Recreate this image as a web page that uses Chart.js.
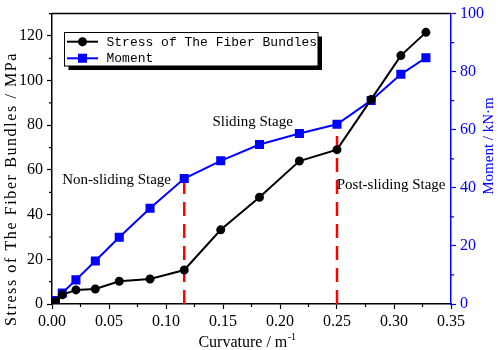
<!DOCTYPE html>
<html>
  <head>
    <title>Stress and Moment vs Curvature</title>
    <style>
      body { margin: 0; background: #fff; }
      #myChart { display: block; }
    </style>
    <script src="https://cdn.jsdelivr.net/npm/chart.js"></script>
  </head>
  <body>
    <canvas id="myChart" width="498" height="350"></canvas>
    <script>
      // data
      const curvature = [0.003, 0.009, 0.021, 0.038, 0.059, 0.086, 0.116, 0.148, 0.182, 0.217, 0.250, 0.280, 0.306, 0.328];
      const stress = [1.2, 4.1, 6.3, 6.7, 10.2, 11.2, 15.2, 33.2, 47.8, 64.0, 69.1, 91.6, 111.2, 121.6];
      const moment = [1.2, 3.8, 8.3, 14.8, 23.0, 33.0, 43.2, 49.3, 54.9, 58.7, 61.9, 70.1, 79.1, 84.8];
      const stageCurvature = [0.116, 0.250];
      const stageMoment = [43.2, 61.9];
      const seriesNames = ['Stress of The Fiber Bundles', 'Moment'];

      const serif = "'Liberation Serif', 'Times New Roman', serif";
      const blue = '#0000ff';

      const stressData = curvature.map((c, i) => ({ x: c, y: stress[i] }));
      const momentData = curvature.map((c, i) => ({ x: c, y: moment[i] }));

      const stageLines = stageCurvature.map((c, i) => ({
        label: 'stage' + i,
        data: [{ x: c, y: 0 }, { x: c, y: stageMoment[i] }],
        yAxisID: 'y2',
        borderColor: '#ff0000',
        borderWidth: 2.5,
        borderDash: [14, 8],
        pointRadius: 0,
        showLine: true,
        order: 3
      }));

      // minor ticks, top frame line, titles, text labels and the boxed legend
      const extras = {
        id: 'extras',
        afterDraw(chart) {
          const ctx = chart.ctx;
          const area = chart.chartArea;
          const sx = chart.scales.x, sy = chart.scales.y, sy2 = chart.scales.y2;
          ctx.save();

          ctx.lineWidth = 1.5;
          ctx.strokeStyle = '#000';
          ctx.beginPath();
          ctx.moveTo(area.left, area.top);
          ctx.lineTo(area.right, area.top);
          ctx.stroke();

          ctx.lineWidth = 1.2;
          ctx.beginPath();
          for (let v = 0.025; v < 0.35; v += 0.05) {
            const px = sx.getPixelForValue(v);
            ctx.moveTo(px, area.bottom);
            ctx.lineTo(px, area.bottom + 3);
          }
          for (let v = 10; v <= 130; v += 20) {
            const py = sy.getPixelForValue(v);
            ctx.moveTo(area.left, py);
            ctx.lineTo(area.left - 3, py);
          }
          ctx.stroke();
          ctx.strokeStyle = blue;
          ctx.beginPath();
          for (let v = 10; v < 100; v += 20) {
            const py = sy2.getPixelForValue(v);
            ctx.moveTo(area.right, py);
            ctx.lineTo(area.right + 3, py);
          }
          ctx.stroke();

          // axis titles
          ctx.fillStyle = '#000';
          ctx.textAlign = 'center';
          ctx.textBaseline = 'middle';
          ctx.font = '16px ' + serif;
          const xt = 'Curvature / m';
          const wMain = ctx.measureText(xt).width;
          ctx.font = '10px ' + serif;
          const wSup = ctx.measureText('-1').width;
          const x0 = 247 - (wMain + wSup) / 2;
          ctx.textAlign = 'left';
          ctx.font = '16px ' + serif;
          ctx.fillText(xt, x0, 343);
          ctx.font = '10px ' + serif;
          ctx.fillText('-1', x0 + wMain + 0.5, 337);

          ctx.save();
          ctx.translate(12, 189);
          ctx.rotate(-Math.PI / 2);
          ctx.textAlign = 'center';
          ctx.font = '16px ' + serif;
          ctx.letterSpacing = '1.6px';
          ctx.fillText('Stress of The Fiber Bundles / MPa', 0, 0);
          ctx.restore();

          ctx.save();
          ctx.translate(489, 146);
          ctx.rotate(-Math.PI / 2);
          ctx.textAlign = 'center';
          ctx.fillStyle = blue;
          ctx.font = '15px ' + serif;
          ctx.fillText('Moment / kN\u00b7m', 0, 0);
          ctx.restore();

          // stage labels
          ctx.font = '15px ' + serif;
          ctx.fillStyle = '#000';
          ctx.textAlign = 'left';
          ctx.fillText('Non-sliding Stage', sx.getPixelForValue(0.009), sy.getPixelForValue(55.5));
          ctx.textAlign = 'center';
          ctx.fillText('Sliding Stage', sx.getPixelForValue(0.176), sy.getPixelForValue(81.6));
          ctx.textAlign = 'left';
          ctx.fillText('Post-sliding Stage', sx.getPixelForValue(0.2498), sy.getPixelForValue(53.3));

          // legend box with shadow
          const bx = 64.5, by = 32.5, bw = 253.5, bh = 33.5;
          ctx.fillStyle = '#000';
          ctx.fillRect(bx + 4, by + 4, bw, bh);
          ctx.fillStyle = '#fff';
          ctx.fillRect(bx, by, bw, bh);
          ctx.lineWidth = 1;
          ctx.strokeStyle = '#000';
          ctx.strokeRect(bx, by, bw, bh);

          const rows = [
            { y: 41.7, color: '#000', style: 'circle', r: 3.5 },
            { y: 58.3, color: blue, style: 'rect', r: 5 }
          ];
          rows.forEach((row, i) => {
            ctx.strokeStyle = row.color;
            ctx.lineWidth = 2;
            ctx.beginPath();
            ctx.moveTo(67, row.y);
            ctx.lineTo(98, row.y);
            ctx.stroke();
            ctx.fillStyle = row.color;
            Chart.helpers.drawPoint(ctx, { pointStyle: row.style, radius: row.r, borderWidth: 1 }, 82.5, row.y);
            ctx.fillStyle = '#000';
            ctx.textAlign = 'left';
            ctx.font = "13px 'Liberation Mono', 'Courier New', monospace";
            ctx.fillText(seriesNames[i], 106.5, row.y + 0.5);
          });

          ctx.restore();
        }
      };

      const tickFont = { family: serif, size: 16 };

      const ctx = document.getElementById('myChart').getContext('2d');
      new Chart(ctx, {
        type: 'scatter',
        data: {
          datasets: [
            {
              label: seriesNames[0],
              data: stressData,
              yAxisID: 'y',
              showLine: true,
              borderColor: '#000',
              backgroundColor: '#000',
              borderWidth: 2,
              pointStyle: 'circle',
              pointRadius: 3.5,
              order: 1
            },
            {
              label: seriesNames[1],
              data: momentData,
              yAxisID: 'y2',
              showLine: true,
              borderColor: blue,
              backgroundColor: blue,
              borderWidth: 2,
              pointStyle: 'rect',
              pointRadius: 5,
              order: 2
            },
            ...stageLines
          ]
        },
        options: {
          responsive: false,
          animation: false,
          devicePixelRatio: 1,
          layout: { padding: { top: 6, left: 0, right: 0, bottom: 0 } },
          plugins: {
            legend: { display: false },
            tooltip: { enabled: false }
          },
          scales: {
            x: {
              type: 'linear',
              min: 0,
              max: 0.35,
              afterFit(s) { s.height = 46; },
              border: { display: true, color: '#000', width: 1.5 },
              grid: { drawOnChartArea: false, tickLength: 5, tickColor: '#000', tickWidth: 1.2 },
              ticks: {
                stepSize: 0.05,
                color: '#000',
                font: tickFont,
                padding: 3,
                maxRotation: 0,
                callback: v => v.toFixed(2)
              }
            },
            y: {
              position: 'left',
              min: 0,
              max: 130,
              afterFit(s) { s.width = 52; },
              afterBuildTicks(s) { s.ticks = s.ticks.filter(t => t.value <= 120); },
              border: { display: true, color: '#000', width: 1.5 },
              grid: { drawOnChartArea: false, tickLength: 5, tickColor: '#000', tickWidth: 1.2 },
              ticks: { stepSize: 20, color: '#000', font: tickFont, padding: 4 }
            },
            y2: {
              position: 'right',
              min: 0,
              max: 100,
              afterFit(s) { s.width = 47; },
              border: { display: true, color: blue, width: 1.5 },
              grid: { drawOnChartArea: false, tickLength: 5, tickColor: blue, tickWidth: 1.2 },
              ticks: { stepSize: 20, color: blue, font: tickFont, padding: 4 }
            }
          }
        },
        plugins: [extras]
      });
    </script>
  </body>
</html>
